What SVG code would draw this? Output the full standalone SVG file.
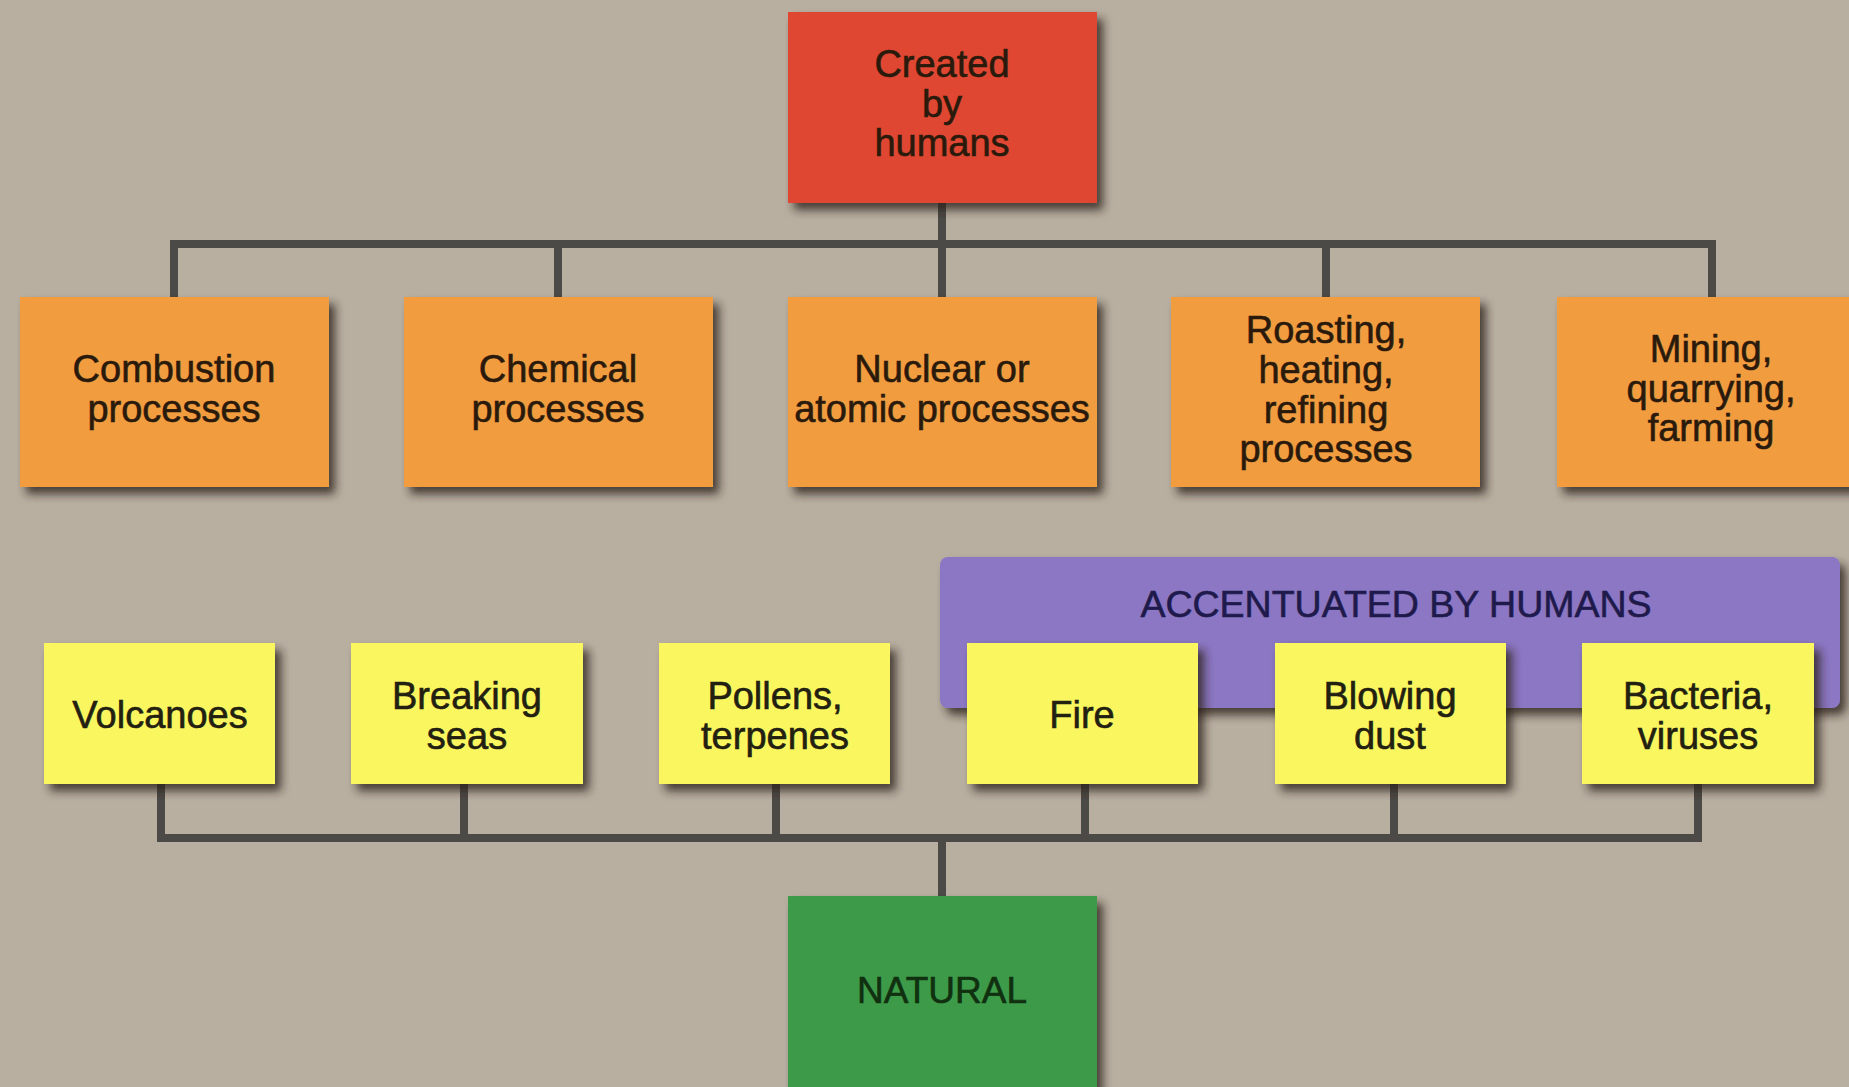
<svg xmlns="http://www.w3.org/2000/svg" width="1849" height="1087" viewBox="0 0 1849 1087">
<defs>
<filter id="sh" x="-10%" y="-10%" width="130%" height="130%">
<feDropShadow dx="6" dy="7" stdDeviation="5" flood-color="#2a2014" flood-opacity="0.8"/>
</filter>
<style>
.bg{fill:#b8afa1}
.red{fill:#df4631}
.org{fill:#f29c40}
.yel{fill:#f9f65e}
.pur{fill:#8b77c3}
.grn{fill:#3c9a48}
.t{font-family:"Liberation Sans",Arial,Helvetica,sans-serif;font-size:38px;text-anchor:middle;fill:#2a1a0c;stroke:#2a1a0c;stroke-width:0.6}
.tp{fill:#1f1a4c;stroke:#1f1a4c;font-size:37.5px}
.tg{fill:#10300f;stroke:#10300f;font-size:37px}
.ty{fill:#222010;stroke:#222010}
.ln{fill:none;stroke:#4c4a46;stroke-width:8;stroke-linejoin:miter;stroke-linecap:butt}
</style>
</defs>
<rect class="bg" x="0" y="0" width="1849" height="1087"/>

<g id="connectors">
<path class="ln" d="M942,203 V297 M174,297 V244 H1712 V297 M558,244 V297 M1326,244 V297"/>
<path class="ln" d="M161,784 V838 H1698 V784 M464,784 V838 M776,784 V838 M1085,784 V838 M1394,784 V838 M942,838 V896"/>
</g>

<g id="created">
<rect class="red" x="788" y="12" width="309" height="191" filter="url(#sh)"/>
<text class="t" x="942" y="77">Created</text>
<text class="t" x="942" y="117">by</text>
<text class="t" x="942" y="156">humans</text>
</g>

<g id="combustion">
<rect class="org" x="20" y="297" width="309" height="190" filter="url(#sh)"/>
<text class="t" x="174" y="382">Combustion</text>
<text class="t" x="174" y="422">processes</text>
</g>
<g id="chemical">
<rect class="org" x="404" y="297" width="309" height="190" filter="url(#sh)"/>
<text class="t" x="558" y="382">Chemical</text>
<text class="t" x="558" y="422">processes</text>
</g>
<g id="nuclear">
<rect class="org" x="788" y="297" width="309" height="190" filter="url(#sh)"/>
<text class="t" x="942" y="382">Nuclear or</text>
<text class="t" x="942" y="422">atomic processes</text>
</g>
<g id="roasting">
<rect class="org" x="1171" y="297" width="309" height="190" filter="url(#sh)"/>
<text class="t" x="1326" y="343">Roasting,</text>
<text class="t" x="1326" y="383">heating,</text>
<text class="t" x="1326" y="423">refining</text>
<text class="t" x="1326" y="462">processes</text>
</g>
<g id="mining">
<rect class="org" x="1557" y="297" width="309" height="190" filter="url(#sh)"/>
<text class="t" x="1711" y="362">Mining,</text>
<text class="t" x="1711" y="402">quarrying,</text>
<text class="t" x="1711" y="441">farming</text>
</g>

<g id="accentuated">
<rect class="pur" x="940" y="557" width="900" height="151" rx="8" filter="url(#sh)"/>
<text class="t tp" x="1396" y="617">ACCENTUATED BY HUMANS</text>
</g>

<g id="volcanoes">
<rect class="yel" x="44" y="643" width="231" height="141" filter="url(#sh)"/>
<text class="t ty" x="160" y="728">Volcanoes</text>
</g>
<g id="breaking">
<rect class="yel" x="351" y="643" width="232" height="141" filter="url(#sh)"/>
<text class="t ty" x="467" y="709">Breaking</text>
<text class="t ty" x="467" y="749">seas</text>
</g>
<g id="pollens">
<rect class="yel" x="659" y="643" width="231" height="141" filter="url(#sh)"/>
<text class="t ty" x="775" y="709">Pollens,</text>
<text class="t ty" x="775" y="749">terpenes</text>
</g>
<g id="fire">
<rect class="yel" x="967" y="643" width="231" height="141" filter="url(#sh)"/>
<text class="t ty" x="1082" y="728">Fire</text>
</g>
<g id="blowing">
<rect class="yel" x="1275" y="643" width="231" height="141" filter="url(#sh)"/>
<text class="t ty" x="1390" y="709">Blowing</text>
<text class="t ty" x="1390" y="749">dust</text>
</g>
<g id="bacteria">
<rect class="yel" x="1582" y="643" width="232" height="141" filter="url(#sh)"/>
<text class="t ty" x="1698" y="709">Bacteria,</text>
<text class="t ty" x="1698" y="749">viruses</text>
</g>

<g id="natural">
<rect class="grn" x="788" y="896" width="309" height="200" filter="url(#sh)"/>
<text class="t tg" x="942" y="1003">NATURAL</text>
</g>
</svg>
